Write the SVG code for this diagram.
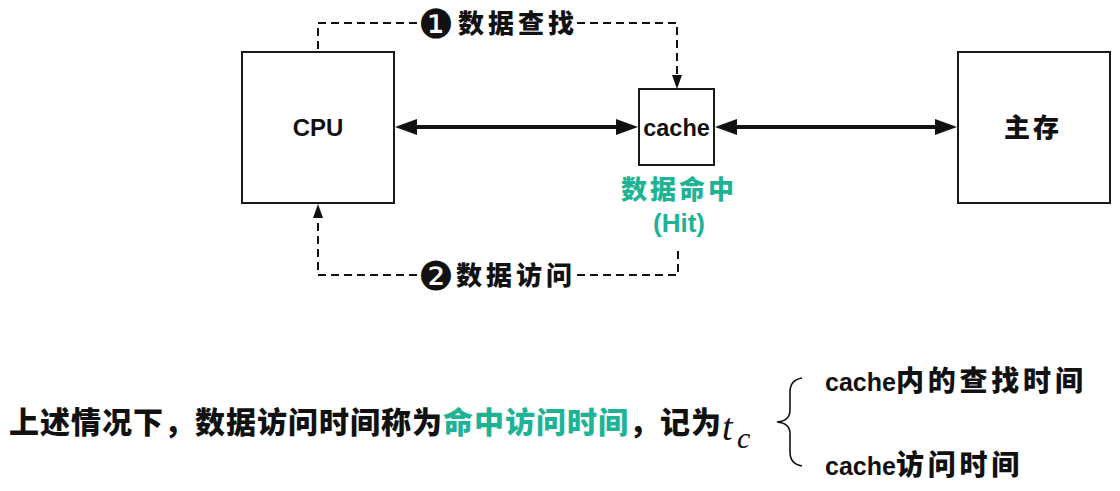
<svg xmlns="http://www.w3.org/2000/svg" width="1120" height="491" viewBox="0 0 1120 491">
<style>
.box{fill:#fff;stroke:#1a1a1a;stroke-width:2}
.lat{font-family:"Liberation Sans","Noto Sans CJK SC",sans-serif;font-weight:bold;fill:#111}
.cjk{font-family:"Noto Sans CJK SC","Liberation Sans",sans-serif;font-weight:900;fill:#111}
.num{font-family:"DejaVu Sans",sans-serif;font-size:40px;fill:#111}
.grn{fill:#1db394}
.solid{stroke:#111;stroke-width:4;fill:none}
.dash{stroke:#111;stroke-width:2;fill:none;stroke-dasharray:8 5}
.it{font-family:"Liberation Serif",serif;font-style:italic;fill:#111}
</style>
<defs>
<marker id="big" markerUnits="userSpaceOnUse" markerWidth="24" markerHeight="18" refX="4" refY="8" orient="auto-start-reverse">
<path d="M0,0 L22,8 L0,16 z" fill="#111"/>
</marker>
<marker id="small" markerUnits="userSpaceOnUse" markerWidth="16" markerHeight="12" refX="3" refY="5" orient="auto">
<path d="M0,0 L14,5 L0,10 z" fill="#111"/>
</marker>
</defs>
<g id="connectors">
<line class="solid" x1="413" y1="127" x2="620" y2="127" marker-start="url(#big)" marker-end="url(#big)"/>
<line class="solid" x1="733" y1="127" x2="939" y2="127" marker-start="url(#big)" marker-end="url(#big)"/>
<polyline class="dash" points="417,23 318,23 318,51"/>
<polyline class="dash" points="577,23 677,23 677,78" marker-end="url(#small)"/>
<polyline class="dash" points="577,275 678,275 678,247"/>
<polyline class="dash" points="417,275 318,275 318,215" marker-end="url(#small)"/>
<g id="label-lookup">
<text class="num" x="418" y="38">❶</text>
<text class="cjk" x="458" y="33" font-size="26" letter-spacing="4">数据查找</text>
</g>
<g id="label-access">
<text class="num" x="418" y="290">❷</text>
<text class="cjk" x="456" y="285" font-size="26" letter-spacing="4">数据访问</text>
</g>
</g>
<g id="cpu">
<rect class="box" x="242" y="52" width="152" height="151"/>
<text class="lat" x="318" y="136" font-size="24" text-anchor="middle">CPU</text>
</g>
<g id="cache">
<rect class="box" x="639" y="89" width="75" height="76"/>
<text class="lat" x="676.5" y="136" font-size="23.5" text-anchor="middle">cache</text>
<text class="cjk grn" x="621" y="199" font-size="26" letter-spacing="3">数据命中</text>
<text class="lat grn" x="679" y="232" font-size="26" text-anchor="middle">(Hit)</text>
</g>
<g id="memory">
<rect class="box" x="958" y="52" width="152" height="151"/>
<text class="cjk" x="1004" y="137" font-size="26" letter-spacing="3">主存</text>
</g>
<g id="summary">
<text class="cjk" x="9" y="433" font-size="30" letter-spacing="1">上述情况下，数据访问时间称为<tspan class="grn">命中访问时间</tspan>，记为</text>
<text class="it" x="722" y="440" font-size="38">t</text>
<text class="it" x="737" y="448" font-size="30">c</text>
<path d="M802,378 Q790,380 790,392 L790,410 Q790,421 777,422 Q790,423 790,434 L790,452 Q790,464 802,466" fill="none" stroke="#111" stroke-width="1.6"/>
<text x="825" y="391"><tspan class="lat" font-size="25">cache</tspan><tspan class="cjk" font-size="28" letter-spacing="3.8">内的查找时间</tspan></text>
<text x="825" y="475"><tspan class="lat" font-size="25">cache</tspan><tspan class="cjk" font-size="28" letter-spacing="3.8">访问时间</tspan></text>
</g>
</svg>
